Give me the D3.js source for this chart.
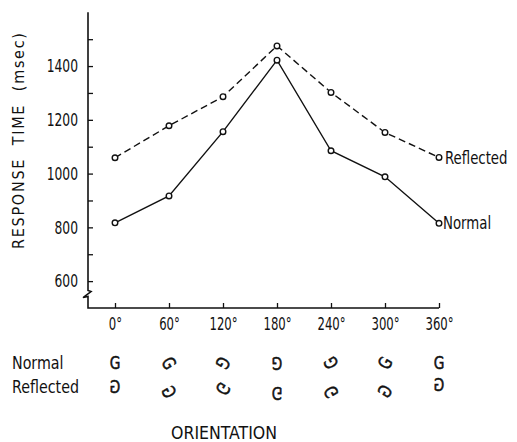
<!DOCTYPE html>
<html><head><meta charset="utf-8">
<script src="https://cdn.jsdelivr.net/npm/d3@7"></script>
<style>
html,body{margin:0;padding:0;background:#fff;}
svg{display:block;}
text{font-family:"DejaVu Sans Condensed","Liberation Sans Narrow",sans-serif;fill:#111;}
</style></head>
<body>
<svg id="chart" width="517" height="442"></svg>
<script>
const angles = [0, 60, 120, 180, 240, 300, 360];
const angleLabels = ["0°", "60°", "120°", "180°", "240°", "300°", "360°"];
const normalRT = [817, 917, 1156, 1422, 1085, 988, 815];
const reflectedRT = [1059, 1178, 1286, 1475, 1302, 1153, 1060];
const yMajorTicks = [600, 800, 1000, 1200, 1400];
const yMinorTicks = [700, 900, 1100, 1300, 1500];
const seriesNames = ["Normal", "Reflected"];
const yTitle = "RESPONSE  TIME  (msec)";
const xTitle = "ORIENTATION";

const svg = d3.select("#chart");
const x = d3.scaleLinear().domain([-30, 360]).range([88, 439]);
const y = d3.scaleLinear().domain([500, 1600]).range([308, 12.3]);
const ink = "#111";

function squeeze(sel, ratio) {
  sel.each(function () {
    const w = this.getComputedTextLength();
    d3.select(this).attr("textLength", w * ratio).attr("lengthAdjust", "spacingAndGlyphs");
  });
}

// Y axis (ticks inside)
const gy = svg.append("g").attr("transform", `translate(${x(-30)},0)`)
  .call(d3.axisLeft(y).tickValues(yMajorTicks).tickSize(-5).tickPadding(10).tickFormat(d3.format("d")));
gy.select(".domain").remove();
gy.selectAll("line").attr("stroke", ink).attr("stroke-width", 1.3);
gy.selectAll("text").attr("font-size", 18).attr("fill", ink).attr("font-family", null);
squeeze(gy.selectAll("text"), 0.76);
const gy2 = svg.append("g").attr("transform", `translate(${x(-30)},0)`)
  .call(d3.axisLeft(y).tickValues(yMinorTicks).tickSize(-5).tickFormat(""));
gy2.select(".domain").remove();
gy2.selectAll("line").attr("stroke", ink).attr("stroke-width", 1.3);

// Y axis line with break
const x0 = x(-30);
const yBreak = y(565);
svg.append("path")
  .attr("d", `M${x0},${y(1600)}V${yBreak}L${x0+3},${yBreak+1}L${x0-5},${yBreak+7}L${x0},${yBreak+6}V${y(500)}H${x(360)}`)
  .attr("fill", "none").attr("stroke", ink).attr("stroke-width", 1.6);

// X axis (ticks inside)
const gx = svg.append("g").attr("transform", `translate(0,${y(500)})`)
  .call(d3.axisBottom(x).tickValues(angles).tickSize(-5).tickPadding(9).tickFormat((d, i) => angleLabels[i]));
gx.select(".domain").remove();
gx.selectAll("line").attr("stroke", ink).attr("stroke-width", 1.3);
gx.selectAll("text").attr("font-size", 18).attr("fill", ink).attr("font-family", null);
squeeze(gx.selectAll("text"), 0.72);

// Lines
const line = d3.line().x((d, i) => x(angles[i])).y(d => y(d));
svg.append("path").datum(reflectedRT).attr("d", line)
  .attr("fill", "none").attr("stroke", ink).attr("stroke-width", 1.4).attr("stroke-dasharray", "7,4");
svg.append("path").datum(normalRT).attr("d", line)
  .attr("fill", "none").attr("stroke", ink).attr("stroke-width", 1.4);

[normalRT, reflectedRT].forEach(s => {
  svg.append("g").selectAll("circle").data(s).join("circle")
    .attr("cx", (d, i) => x(angles[i])).attr("cy", d => y(d)).attr("r", 2.8)
    .attr("fill", "#fff").attr("stroke", ink).attr("stroke-width", 1.4);
});

// Series labels at end
const endLabels = svg.append("g");
endLabels.append("text").attr("x", x(360) + 6).attr("y", y(reflectedRT[6])).attr("dy", "0.36em")
  .attr("font-size", 17).text(seriesNames[1]);
endLabels.append("text").attr("x", x(360) + 4).attr("y", y(normalRT[6])).attr("dy", "0.36em")
  .attr("font-size", 17).text(seriesNames[0]);
squeeze(endLabels.selectAll("text"), 0.87);

// Y title
svg.append("text").attr("transform", `translate(24,141) rotate(-90)`).attr("text-anchor", "middle")
  .attr("font-size", 16).style("white-space", "pre")
  .attr("textLength", 216).attr("lengthAdjust", "spacing").text(yTitle);

// Row labels
const rowLabels = svg.append("g");
rowLabels.append("text").attr("x", 12).attr("y", 363).attr("dy", "0.36em").attr("font-size", 18).text(seriesNames[0]);
rowLabels.append("text").attr("x", 12).attr("y", 387).attr("dy", "0.36em").attr("font-size", 18).text(seriesNames[1]);
squeeze(rowLabels.selectAll("text"), 0.88);

// Rotated G glyphs
const normalGlyphY = [363, 363, 363, 363, 363, 363, 363];
const reflectedGlyphY = [387, 392, 389, 393, 392, 391, 385];
angles.forEach((a, i) => {
  svg.append("text").attr("transform", `translate(${x(a)},${normalGlyphY[i]}) rotate(${a}) scale(0.85,1)`)
    .attr("text-anchor", "middle").attr("dy", "0.36em").attr("font-size", 18)
    .attr("stroke", ink).attr("stroke-width", 0.5).text("G");
  svg.append("text").attr("transform", `translate(${x(a)},${reflectedGlyphY[i]}) rotate(${a}) scale(-0.85,1)`)
    .attr("text-anchor", "middle").attr("dy", "0.36em").attr("font-size", 18)
    .attr("stroke", ink).attr("stroke-width", 0.5).text("G");
});

// X title
svg.append("text").attr("x", 171).attr("y", 433).attr("dy", "0.36em")
  .attr("font-size", 17).attr("textLength", 106).attr("lengthAdjust", "spacingAndGlyphs").text(xTitle);
</script>
</body></html>
